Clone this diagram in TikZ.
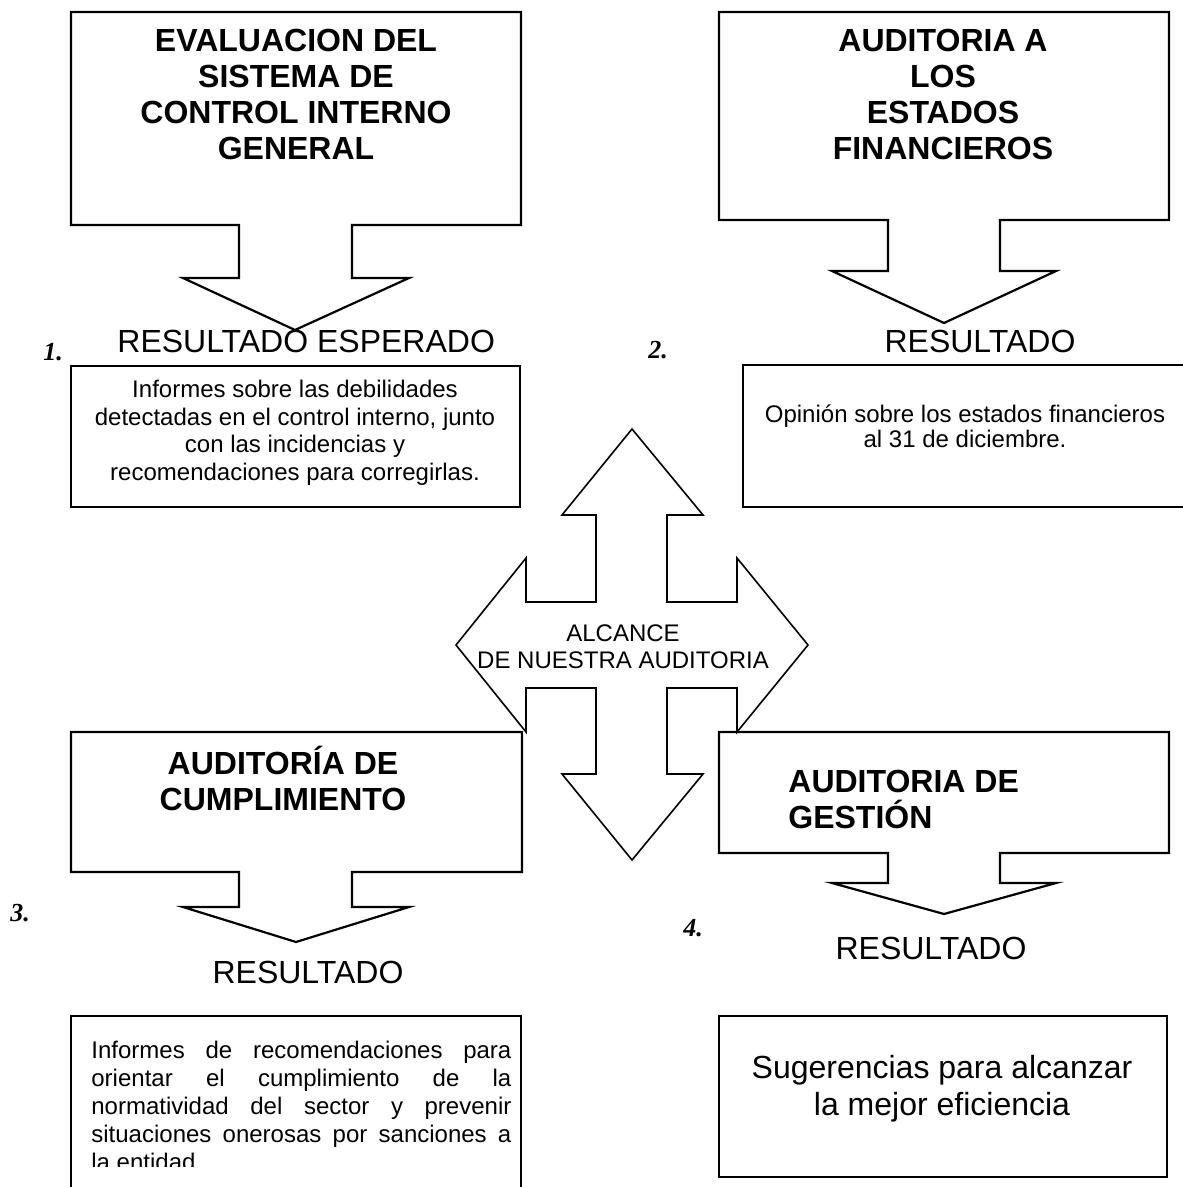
\documentclass[tikz,border=0pt]{standalone}
\usepackage{fontspec}
\setmainfont{Liberation Sans}
\newfontfamily\numfont{Liberation Serif}
\tikzset{
  shp/.style={draw=black, line width=1.1pt, line join=miter},
  crs/.style={draw=black, line width=0.8pt, line join=miter},
  ttl/.style={inner sep=0pt, anchor=base, font=\fontsize{16}{19}\selectfont\bfseries},
  ttll/.style={ttl, anchor=base west},
  res/.style={inner sep=0pt, anchor=base, font=\fontsize{16}{19}\selectfont},
  body/.style={inner sep=0pt, anchor=base, font=\fontsize{12}{14}\selectfont},
  bodyl/.style={body, anchor=base west},
  num/.style={inner sep=0pt, anchor=base west, font=\fontsize{13}{15}\selectfont\numfont\bfseries\itshape},
}
\begin{document}
\begin{tikzpicture}[x=0.5pt,y=-0.5pt]
\useasboundingbox (0,0) rectangle (1182,1187);

% ---- callout 1
\draw[shp] (71,12) -- (521,12) -- (521,225) -- (352,225) -- (352,278) -- (409,278)
  -- (295,330) -- (183,278) -- (239,278) -- (239,225) -- (71,225) -- cycle;
\node[ttl] (t1a) at (296,52) {EVALUACION DEL};
\node[ttl] (t1b) at (296,88) {SISTEMA DE};
\node[ttl] (t1c) at (296,124) {CONTROL INTERNO};
\node[ttl] (t1d) at (296,160) {GENERAL};

% ---- callout 2
\draw[shp] (719,12) -- (1169,12) -- (1169,220) -- (1000,220) -- (1000,271) -- (1056,271)
  -- (944,323) -- (832,271) -- (888,271) -- (888,220) -- (719,220) -- cycle;
\node[ttl] (t2a) at (943,52) {AUDITORIA A};
\node[ttl] (t2b) at (943,88) {LOS};
\node[ttl] (t2c) at (943,124) {ESTADOS};
\node[ttl] (t2d) at (943,160) {FINANCIEROS};

% ---- callout 3
\draw[shp] (71,732) -- (522,732) -- (522,872) -- (352,872) -- (352,907) -- (409,907)
  -- (296,942) -- (183,907) -- (239,907) -- (239,872) -- (71,872) -- cycle;
\node[ttl] (t3a) at (283,774) {AUDITORÍA DE};
\node[ttl] (t3b) at (283,810) {CUMPLIMIENTO};

% ---- callout 4
\draw[shp] (719,732) -- (1169,732) -- (1169,853) -- (1000,853) -- (1000,883) -- (1056,883)
  -- (944,914) -- (832,883) -- (888,883) -- (888,853) -- (719,853) -- cycle;
\node[ttll] (t4a) at (788,792) {AUDITORIA DE};
\node[ttll] (t4b) at (788,828) {GESTIÓN};

% ---- central cross
\draw[crs] (632,429) -- (703,515) -- (667,515) -- (667,602) -- (737,602) -- (737,558)
  -- (808,645) -- (737,732) -- (737,688) -- (667,688) -- (667,774) -- (703,774)
  -- (632,860) -- (562,774) -- (596,774) -- (596,688) -- (526,688) -- (526,732)
  -- (456,645) -- (526,558) -- (526,602) -- (596,602) -- (596,515) -- (562,515) -- cycle;
\node[body] (alc1) at (623,641) {ALCANCE};
\node[body] (alc2) at (623,668) {DE NUESTRA AUDITORIA};

% ---- result labels and numbers
\node[res, anchor=base west] (r1) at (117,352) {RESULTADO ESPERADO};
\node[res] (r2) at (980,352) {RESULTADO};
\node[res] (r3) at (308,983) {RESULTADO};
\node[res] (r4) at (931,959) {RESULTADO};
\node[num] (n1) at (43,360) {1.};
\node[num] (n2) at (648,358) {2.};
\node[num] (n3) at (10,921) {3.};
\node[num] (n4) at (683,936) {4.};

% ---- result box 1
\draw[shp] (71,366) rectangle (520,507);
\node[body] (b1a) at (295,397) {Informes sobre las debilidades};
\node[body] (b1b) at (295,425) {detectadas en el control interno, junto};
\node[body] (b1c) at (295,452) {con las incidencias y};
\node[body] (b1d) at (295,480) {recomendaciones para corregirlas.};

% ---- result box 2 (open at the right edge)
\draw[shp] (1183,365) -- (743,365) -- (743,507) -- (1183,507);
\node[body] (b2a) at (965,422) {Opinión sobre los estados financieros};
\node[body] (b2b) at (965,447) {al 31 de diciembre.};

% ---- result box 3 (cut at the bottom)
\draw[shp] (71,1188) -- (71,1016) -- (521,1016) -- (521,1188);
\begin{scope}
\clip (71,1016) rectangle (521,1166);
\node[bodyl] (b3a) at (91,1058) {\makebox[210pt][s]{Informes de recomendaciones para}};
\node[bodyl] (b3b) at (91,1086) {\makebox[210pt][s]{orientar el cumplimiento de la}};
\node[bodyl] (b3c) at (91,1114) {\makebox[210pt][s]{normatividad del sector y prevenir}};
\node[bodyl] (b3d) at (91,1142) {\makebox[210pt][s]{situaciones onerosas por sanciones a}};
\node[bodyl] (b3e) at (91,1170) {la entidad};
\end{scope}

% ---- result box 4
\draw[shp] (719,1016) rectangle (1167,1177);
\node[res] (b4a) at (942,1078) {Sugerencias para alcanzar};
\node[res] (b4b) at (942,1115) {la mejor eficiencia};
\end{tikzpicture}
\end{document}
